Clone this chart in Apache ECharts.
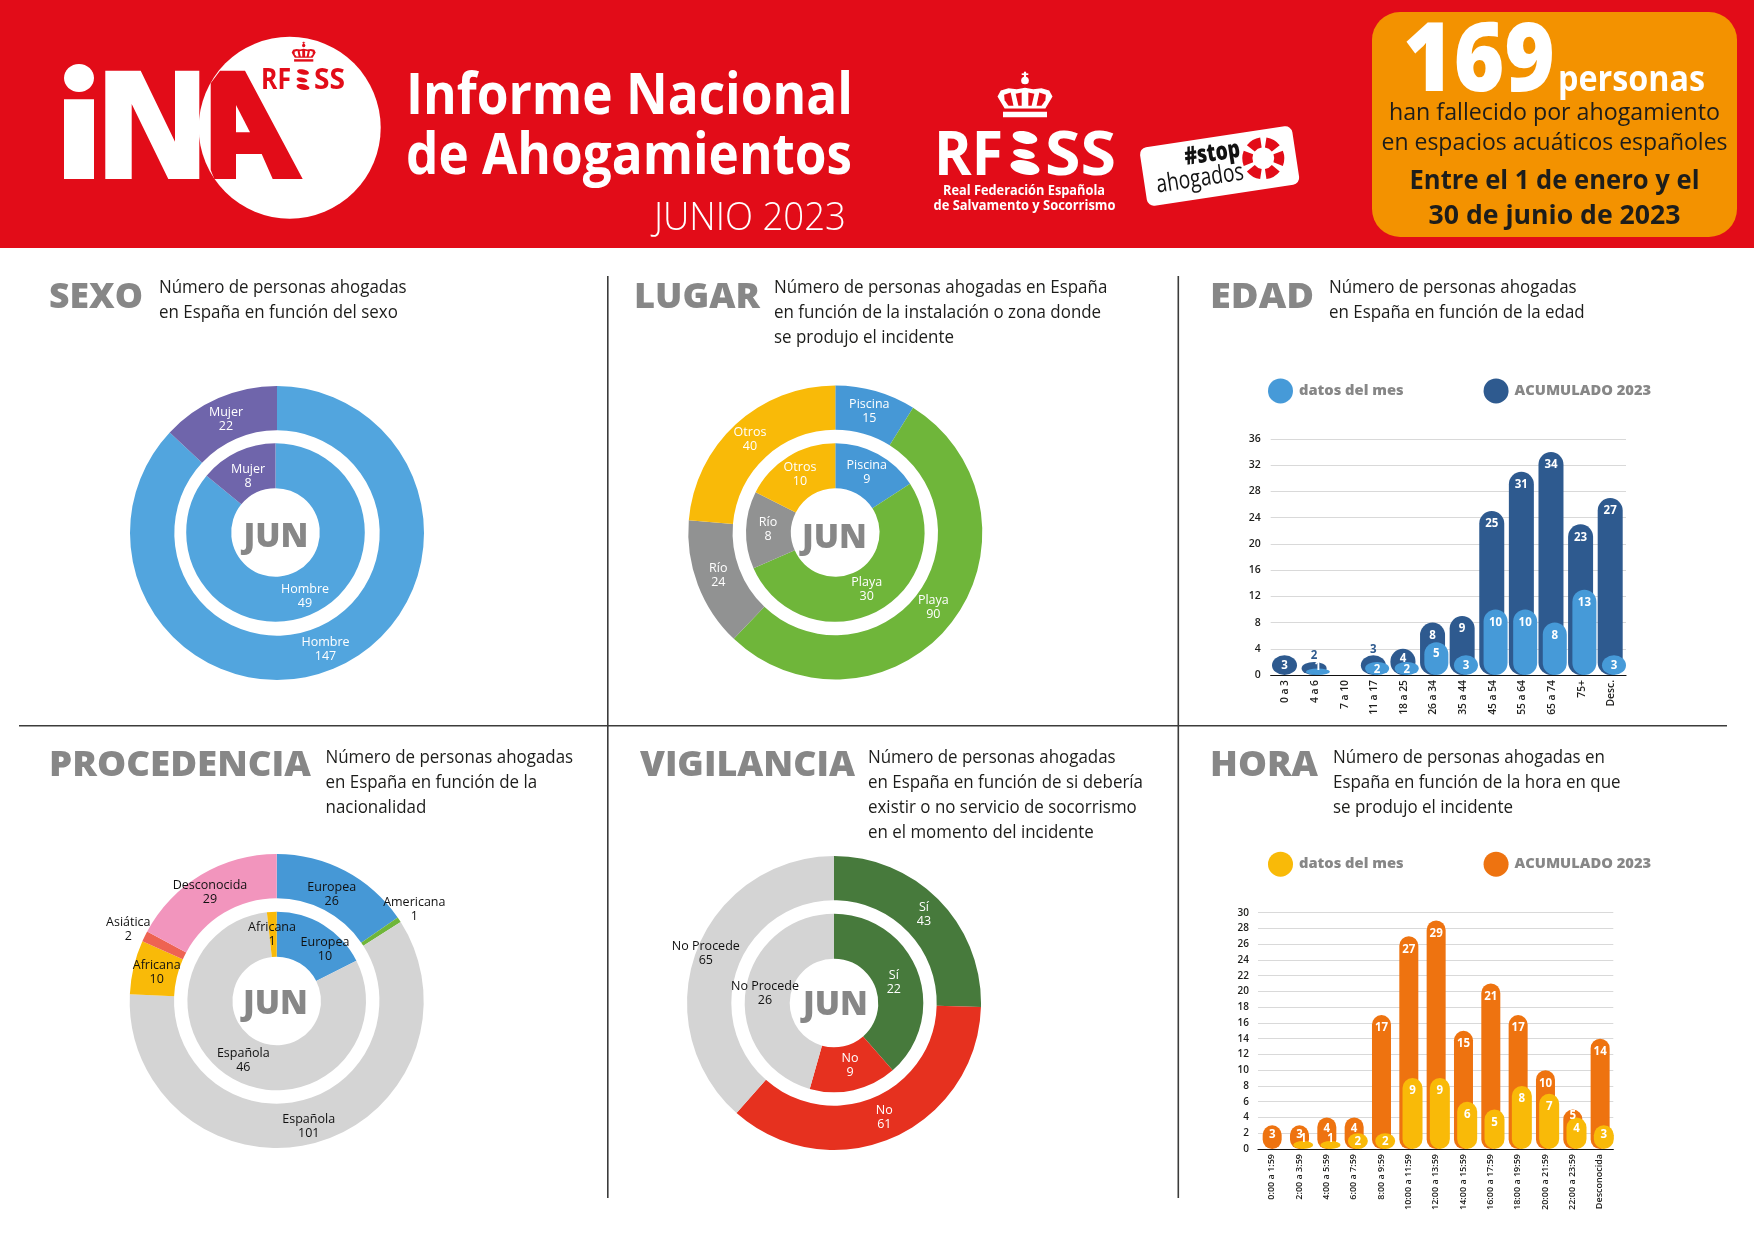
<!DOCTYPE html>
<html>
<head>
<meta charset="UTF-8">
<title>Informe Nacional de Ahogamientos</title>
<script src="https://cdn.jsdelivr.net/npm/echarts@6/dist/echarts.min.js"></script>
<style>
html, body { margin: 0; padding: 0; background: #fff; }
#container { width: 1754px; height: 1240px; }
</style>
</head>
<body>
<div id="container"></div>
<script type="text/javascript">
// datos: donuts (mes = anillo interior, acumulado = anillo exterior)
var sexoNames = ['Hombre', 'Mujer'];
var sexoMes = [49, 8];
var sexoTotal = [147, 22];

var lugarNames = ['Piscina', 'Playa', 'Río', 'Otros'];
var lugarMes = [9, 30, 8, 10];
var lugarTotal = [15, 90, 24, 40];

var procMesNames = ['Europea', 'Española', 'Africana'];
var procMes = [10, 46, 1];
var procTotalNames = ['Europea', 'Americana', 'Española', 'Africana', 'Asiática', 'Desconocida'];
var procTotal = [26, 1, 101, 10, 2, 29];

var vigNames = ['Sí', 'No', 'No Procede'];
var vigMes = [22, 9, 26];
var vigTotal = [43, 61, 65];

// datos: barras
var edadCats = ['0 a 3', '4 a 6', '7 a 10', '11 a 17', '18 a 25', '26 a 34', '35 a 44', '45 a 54', '55 a 64', '65 a 74', '75+', 'Desc.'];
var edadMes = [0, 1, 0, 2, 2, 5, 3, 10, 10, 8, 13, 3];
var edadTotal = [3, 2, 0, 3, 4, 8, 9, 25, 31, 34, 23, 27];

var horaCats = ['0:00 a 1:59', '2:00 a 3:59', '4:00 a 5:59', '6:00 a 7:59', '8:00 a 9:59', '10:00 a 11:59', '12:00 a 13:59', '14:00 a 15:59', '16:00 a 17:59', '18:00 a 19:59', '20:00 a 21:59', '22:00 a 23:59', 'Desconocida'];
var horaMes = [0, 1, 1, 2, 2, 9, 9, 6, 5, 8, 7, 4, 3];
var horaTotal = [3, 3, 4, 4, 17, 27, 29, 15, 21, 17, 10, 5, 14];

var FONT = '"Open Sans"';
var RED = '#E20C18';
var GREY_TXT = '#878787';
var INK = '#1d1d1b';
var LIGHT = '#D4D4D4';

var measure = document.createElement('canvas').getContext('2d');

// texto real; si viene w se ajusta el ancho con scaleX
function txt(str, x, y, size, weight, color, w, align, sx) {
	var font = weight + ' ' + size + 'px ' + FONT;
	var scale = sx || 1;
	if (w) {
		measure.font = font;
		scale = w / measure.measureText(str).width;
	}
	return {
		type: 'text', x: x, y: y + size * 0.075, scaleX: scale, silent: true, z: 10,
		style: {
			text: str, x: 0, y: 0, font: font, fill: color,
			align: align || 'left', textAlign: align || 'left',
			verticalAlign: 'middle', textVerticalAlign: 'middle'
		}
	};
}

function rect(x, y, w, h, color, r) {
	return { type: 'rect', silent: true, shape: { x: x, y: y, width: w, height: h, r: r || 0 }, style: { fill: color } };
}

function poly(points, color, z) {
	return { type: 'polygon', silent: true, z: z || 2, shape: { points: points }, style: { fill: color } };
}

function oval(cx, cy, rx, ry, rot, color) {
	return { type: 'ellipse', silent: true, z: 5, x: cx, y: cy, rotation: rot, shape: { cx: 0, cy: 0, rx: rx, ry: ry }, style: { fill: color } };
}

// corona del logo, en una caja de 100 de ancho
function crown(x, y, size, color, back) {
	var k = size / 100;
	return {
		type: 'group', x: x, y: y, scaleX: k, scaleY: k, silent: true, z: 5,
		children: [
			rect(48, 0, 4, 10, color),
			rect(44, 3, 12, 3, color),
			{ type: 'circle', shape: { cx: 50, cy: 16, r: 7 }, style: { fill: color } },
			poly([[0, 45], [6, 34], [20, 30], [35, 32], [50, 29], [65, 32], [80, 30], [94, 34], [100, 45], [96, 52], [87, 67], [13, 67], [4, 52]], color),
			poly([[12, 42], [24, 38], [29, 62], [20, 62], [13, 52]], back),
			poly([[33, 40], [44, 38], [44, 62], [38, 62]], back),
			poly([[88, 42], [76, 38], [71, 62], [80, 62], [87, 52]], back),
			poly([[67, 40], [56, 38], [56, 62], [62, 62]], back),
			rect(10, 73, 80, 10, color)
		]
	};
}

// rueda del #stopahogados
function wheel(cx, cy, r) {
	var parts = [];
	for (var i = 0; i < 6; i++) {
		var a = i * Math.PI / 3 - Math.PI / 6;
		parts.push({
			type: 'sector', silent: true, z: 6,
			shape: { cx: cx, cy: cy, r0: r * 0.52, r: r, startAngle: a + 0.15, endAngle: a + Math.PI / 3 - 0.15 },
			style: { fill: RED }
		});
	}
	return parts;
}

var graphics = [
	rect(0, 0, 1754, 248, RED),
	// logo iNA
	rect(64, 99.3, 30, 79.7, '#fff'),
	oval(79, 78, 15, 14, 0, '#fff'),
	{ type: 'circle', silent: true, shape: { cx: 289.7, cy: 127.7, r: 91 }, style: { fill: '#fff' } },
	poly([[105.3, 70.7], [140.7, 70.7], [175, 141.7], [175, 70.7], [199.3, 70.7], [199.3, 179], [168.3, 179], [131.7, 104], [131.7, 179], [105.3, 179]], '#fff'),
	poly([[220, 70.7], [245, 70.7], [302.7, 179], [272.7, 179], [261.7, 154], [236, 154], [236, 179], [214.3, 179], [210.7, 170], [210.7, 83.3]], RED, 3),
	poly([[236, 105], [250, 132.3], [236, 132.3]], '#fff', 4),
	crown(291.7, 41.7, 24, RED, '#fff'),
	txt('RF', 261, 79.3, 28, 700, RED, 30),
	oval(303, 72, 6, 2.6, -0.2, RED),
	oval(302, 80, 5.5, 2.2, -0.2, RED),
	oval(303, 87, 6.5, 2.8, -0.2, RED),
	txt('SS', 314, 79.3, 28, 700, RED, 31),
	// titulo
	txt('Informe Nacional', 406, 93.3, 58, 700, '#fff', 447),
	txt('de Ahogamientos', 406, 153, 58, 700, '#fff', 446),
	txt('JUNIO 2023', 654, 215.5, 39, 300, '#fff', 192),
	// logo RFESS grande
	crown(997.5, 71.7, 55, '#fff', RED),
	txt('RF', 934, 153.3, 60, 700, '#fff', 69),
	oval(1025, 137.5, 12.5, 6, -0.2, '#fff'),
	oval(1024, 154, 11, 4.5, -0.2, '#fff'),
	oval(1025, 167.5, 14.7, 7, -0.2, '#fff'),
	txt('SS', 1045, 153.3, 60, 700, '#fff', 71),
	txt('Real Federación Española', 1024, 189.7, 14, 700, '#fff', 162, 'center'),
	txt('de Salvamento y Socorrismo', 1024.5, 204.7, 14, 700, '#fff', 182, 'center'),
	// #stopahogados
	{ type: 'rect', silent: true, z: 5, x: 1219.6, y: 166, rotation: 0.15, shape: { x: -77, y: -29.5, width: 154, height: 59, r: 7 }, style: { fill: '#fff' } },
	Object.assign(txt('#stop', 1212.3, 152, 25, 800, '#111', 56, 'center'), { rotation: 0.15 }),
	Object.assign(txt('ahogados', 1200, 177, 25, 400, '#111', 88, 'center'), { rotation: 0.15 })
].concat(wheel(1263.3, 158.3, 21)).concat([
	// recuadro naranja
	rect(1372, 12, 365, 225, '#F39200', 28),
	txt('169', 1403, 56, 96, 800, '#fff', 152),
	txt('personas', 1558, 78, 36, 700, '#fff', 147),
	txt('han fallecido por ahogamiento', 1554.5, 111, 24, 400, INK, 331, 'center'),
	txt('en espacios acuáticos españoles', 1554.5, 141, 24, 400, INK, 346, 'center'),
	txt('Entre el 1 de enero y el', 1554.5, 179, 27, 700, INK, 290, 'center'),
	txt('30 de junio de 2023', 1554.5, 214, 27, 700, INK, 252, 'center'),
	// separadores
	rect(607, 276, 1.6, 922, '#3c3c3b'),
	rect(1177.5, 276, 1.6, 922, '#3c3c3b'),
	rect(19, 725, 1708, 1.4, '#3c3c3b')
]);

// titulos y subtitulos de cada bloque
var blocks = [
	['SEXO', 49, 295, 94, 159, 287, ['Número de personas ahogadas', 'en España en función del sexo']],
	['LUGAR', 634, 295, 126, 774, 287, ['Número de personas ahogadas en España', 'en función de la instalación o zona donde', 'se produjo el incidente']],
	['EDAD', 1210, 295, 104, 1329, 287, ['Número de personas ahogadas', 'en España en función de la edad']],
	['PROCEDENCIA', 49, 763, 262, 325.5, 757, ['Número de personas ahogadas', 'en España en función de la', 'nacionalidad']],
	['VIGILANCIA', 640, 763, 215, 868, 757, ['Número de personas ahogadas', 'en España en función de si debería', 'existir o no servicio de socorrismo', 'en el momento del incidente']],
	['HORA', 1210, 763, 108, 1333, 757, ['Número de personas ahogadas en', 'España en función de la hora en que', 'se produjo el incidente']]
];
blocks.forEach(function (b) {
	graphics.push(txt(b[0], b[1], b[2], 36, 800, GREY_TXT, b[3]));
	b[6].forEach(function (line, i) {
		graphics.push(txt(line, b[4], b[5] + i * 24.9, 18, 400, INK, 0, 'left', 0.94));
	});
});

// JUN en el centro de los donuts
[[276, 535], [834.5, 536], [275.5, 1002], [835.5, 1003.5]].forEach(function (p) {
	graphics.push(txt('JUN', p[0], p[1], 33, 800, GREY_TXT, 65, 'center'));
});

// posicion de las etiquetas de los donuts
var sexoMesPos = [[305, 595], [248, 475]];
var sexoTotalPos = [[325.5, 648], [226, 418]];
var lugarMesPos = [[866.7, 471.3], [866.7, 588], [768, 528.3], [800, 473.3]];
var lugarTotalPos = [[869.3, 410], [933.3, 606.3], [718.3, 574.3], [750, 437.7]];
var procMesPos = [[325, 947.7], [243.3, 1059], [272, 933.3]];
var procTotalPos = [[331.7, 892.7], [414.3, 908.3], [308.7, 1125.3], [156.7, 971], [128.3, 928], [210, 890.7]];
var vigMesPos = [[893.8, 981], [850, 1064.4], [765, 992.2]];
var vigTotalPos = [[924, 913.3], [884.3, 1115.8], [705.8, 952]];

function donut(center, radius, names, values, colors, labelColors, pos) {
	return {
		type: 'pie', center: center, radius: radius, startAngle: 90, clockwise: true,
		silent: true, avoidLabelOverlap: false, z: 3,
		data: values.map(function (v, i) {
			return {
				name: names[i], value: v,
				itemStyle: { color: colors[i] },
				label: { color: labelColors[i] }
			};
		}),
		label: { show: true, position: 'inside', formatter: '{b}\n{c}', fontFamily: FONT, fontSize: 12.5, lineHeight: 14, align: 'center' },
		labelLine: { show: false },
		labelLayout: function (p) {
			var q = pos[p.dataIndex];
			return { x: q[0], y: q[1] + 1.5, align: 'center', verticalAlign: 'middle' };
		}
	};
}

var INNER = [44.3, 89.3];
var OUTER = [102.7, 147];
var W = '#fff', K = '#111';

var series = [
	donut([275.5, 532.5], INNER, sexoNames, sexoMes, ['#52A5DE', '#6F65AB'], [W, W], sexoMesPos),
	donut([277, 533], OUTER, sexoNames, sexoTotal, ['#52A5DE', '#6F65AB'], [W, W], sexoTotalPos),
	donut([835.3, 532.5], INNER, lugarNames, lugarMes, ['#4698D6', '#6FB63A', '#919292', '#F9BA08'], [W, W, W, W], lugarMesPos),
	donut([835.3, 532.5], OUTER, lugarNames, lugarTotal, ['#4698D6', '#6FB63A', '#919292', '#F9BA08'], [W, W, W, W], lugarTotalPos),
	donut([276.7, 1001], INNER, procMesNames, procMes, ['#4698D6', LIGHT, '#F9BA08'], [K, K, K], procMesPos),
	donut([276.7, 1001], OUTER, procTotalNames, procTotal, ['#4698D6', '#6FB63A', LIGHT, '#F9BA08', '#EE6352', '#F295BD'], [K, K, K, K, K, K], procTotalPos),
	donut([834, 1003], INNER, vigNames, vigMes, ['#477A3C', '#E6311F', LIGHT], [W, W, K], vigMesPos),
	donut([834, 1003], OUTER, vigNames, vigTotal, ['#477A3C', '#E6311F', LIGHT], [W, W, K], vigTotalPos)
];

// barra-capsula: los extremos son elipticos, asi las barras bajas quedan como en el original
function capsules(idx, name, values, color, offset, width, above, nudge) {
	return {
		type: 'custom', name: name, coordinateSystem: 'cartesian2d', xAxisIndex: idx, yAxisIndex: idx,
		silent: true, z: 3, encode: { x: 0, y: 1 }, itemStyle: { color: color },
		data: values.map(function (v, i) { return [i, v]; }),
		renderItem: function (params, api) {
			var i = api.value(0), v = api.value(1);
			if (!v) return null;
			var top = api.coord([i, v]), base = api.coord([i, 0]);
			var x = top[0] + offset, h = base[1] - top[1], r = width / 2, ry = Math.min(r, h / 2);
			var d = 'M' + (x - r) + ' ' + (top[1] + ry) + ' A' + r + ' ' + ry + ' 0 0 1 ' + (x + r) + ' ' + (top[1] + ry) +
				' L' + (x + r) + ' ' + (base[1] - ry) + ' A' + r + ' ' + ry + ' 0 0 1 ' + (x - r) + ' ' + (base[1] - ry) + ' Z';
			var fill = '#fff', ly;
			if (above.indexOf(i) >= 0) {
				ly = top[1] - 7;
				fill = color;
			} else if (nudge[i] !== undefined) {
				ly = top[1] + nudge[i];
			} else if (h < 12) {
				ly = top[1] - 3;
			} else if (h < 23) {
				ly = top[1] + h / 2;
			} else {
				ly = top[1] + Math.min(12, h / 3);
			}
			return {
				type: 'group',
				children: [
					{ type: 'path', shape: { pathData: d }, style: { fill: color } },
					{
						type: 'text', x: x, y: ly + 1, z2: 20,
						style: { text: String(v), fill: fill, font: '700 11.5px ' + FONT, align: 'center', textAlign: 'center', verticalAlign: 'middle', textVerticalAlign: 'middle' }
					}
				]
			};
		}
	};
}

series.push(capsules(0, 'ACUMULADO 2023', edadTotal, '#2E5A8F', -1, 25, [1, 3], {}));
series.push(capsules(0, 'datos del mes', edadMes, '#469AD8', 2.8, 24, [], {}));
series.push(capsules(1, 'ACUMULADO 2023', horaTotal, '#EE7310', 0.5, 19, [], { 11: 5 }));
series.push(capsules(1, 'datos del mes', horaMes, '#F9BA08', 4.2, 20, [], {}));

function yAxis(idx, max, step, fontSize, margin) {
	return {
		type: 'value', gridIndex: idx, min: 0, max: max, interval: step,
		axisLine: { show: false }, axisTick: { show: false },
		axisLabel: { color: INK, fontFamily: FONT, fontWeight: 600, fontSize: fontSize, margin: margin },
		splitLine: { lineStyle: { color: '#d9d9d9', width: 1 } }
	};
}

function xAxis(idx, cats, fontSize) {
	return {
		type: 'category', gridIndex: idx, data: cats,
		axisLine: { lineStyle: { color: '#111', width: 1.2 } }, axisTick: { show: false },
		axisLabel: { interval: 0, rotate: 90, color: INK, fontFamily: FONT, fontWeight: 600, fontSize: fontSize, margin: 5 }
	};
}

function legend(top, light, dark, gap) {
	return {
		left: 1268, top: top, padding: 0, itemWidth: 25, itemHeight: 25, itemGap: gap, icon: 'circle', selectedMode: false,
		data: [
			{ name: 'datos del mes', itemStyle: { color: light } },
			{ name: 'ACUMULADO 2023', itemStyle: { color: dark } }
		],
		textStyle: { color: GREY_TXT, fontFamily: FONT, fontWeight: 800, fontSize: 14.7, padding: [0, 0, 0, 1] }
	};
}

var option = {
	animation: false,
	backgroundColor: '#fff',
	grid: [
		{ left: 1270.7, top: 439, width: 355.3, height: 236 },
		{ left: 1258, top: 912.7, width: 355.3, height: 236.3 }
	],
	xAxis: [xAxis(0, edadCats, 10.3), xAxis(1, horaCats, 9)],
	yAxis: [yAxis(0, 36, 4, 10.5, 10), yAxis(1, 30, 2, 10, 9)],
	legend: [legend(378.4, '#469AD8', '#2E5A8F', 80), legend(851.7, '#F9BA08', '#EE7310', 80)],
	graphic: { elements: graphics },
	series: series
};

var myChart = echarts.init(document.getElementById('container'));
myChart.setOption(option);
</script>
</body>
</html>
